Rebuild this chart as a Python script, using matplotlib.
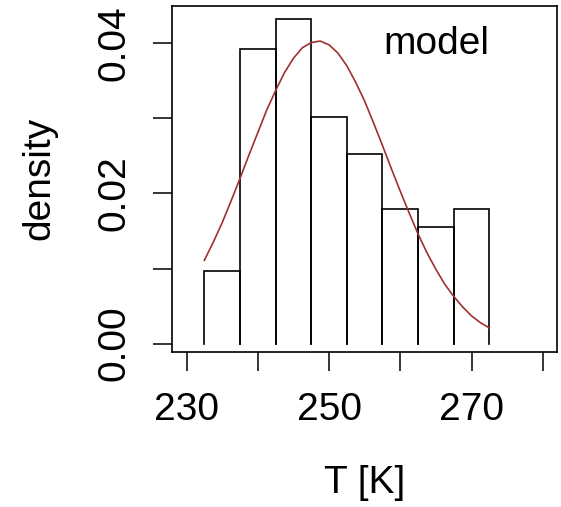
import matplotlib.pyplot as plt
import numpy

plt.rcParams['font.family'] = ['Liberation Sans', 'DejaVu Sans']

# histogram of observed temperatures (density per 5 K bin)
bin_edges = [232.5, 237.5, 242.5, 247.5, 252.5, 257.5, 262.5, 267.5, 272.5]
densities = [0.0097, 0.0393, 0.0432, 0.0302, 0.0252, 0.0180, 0.0155, 0.0180]

# model curve
model_t = [232.5, 233.75, 235.0, 236.25, 237.5, 238.75, 240.0, 241.25, 242.5,
           243.75, 245.0, 246.25, 247.5, 248.75, 250.0, 251.25, 252.5,
           253.75, 255.0, 256.25, 257.5, 258.75, 260.0, 261.25, 262.5,
           263.75, 265.0, 266.25, 267.5, 268.75, 270.0, 271.25, 272.5]
model_density = [0.0111, 0.0135, 0.0161, 0.0190, 0.0220, 0.0251, 0.0281, 0.0311, 0.0337,
                 0.0361, 0.0380, 0.0394, 0.0401, 0.0403, 0.0398, 0.0387, 0.0370,
                 0.0348, 0.0323, 0.0294, 0.0264, 0.0233, 0.0203, 0.0174, 0.0146,
                 0.0121, 0.0099, 0.0079, 0.0063, 0.0049, 0.0037, 0.0028, 0.0021]

x_ticks = [230, 240, 250, 260, 270, 280]
x_labels = ['230', '', '250', '', '270', '']
y_ticks = [0.00, 0.01, 0.02, 0.03, 0.04]
y_labels = ['0.00', '', '0.02', '', '0.04']


def produce_plot():
    fig = plt.figure(figsize=(5.61, 5.07), dpi=100)
    ax = fig.add_axes([0.3071, 0.3063, 0.6858, 0.6819])

    # bars drawn as open rectangles (no bottom edge, like R's hist here)
    for left, right, h in zip(bin_edges[:-1], bin_edges[1:], densities):
        ax.plot([left, left, right, right], [0, h, h, 0], color='black', lw=1.2,
                solid_joinstyle='miter')

    ax.plot(model_t, model_density, color='#a03030', lw=1.2)
    ax.text(265, 0.0399, 'model', fontsize=28, ha='center', va='center')

    ax.set_xlim(228, 282)
    ax.set_ylim(-0.00107, 0.04497)
    ax.set_xticks(x_ticks)
    ax.set_xticklabels(x_labels)
    ax.set_yticks(y_ticks)
    ax.set_yticklabels(y_labels, rotation=90, va='center')
    ax.tick_params(direction='out', length=14, width=1.1, labelsize=28, pad=15)
    for spine in ax.spines.values():
        spine.set_linewidth(1.2)

    ax.set_xlabel('T [K]', fontsize=28, labelpad=27)
    ax.set_ylabel('density', fontsize=28, labelpad=28)

    plt.savefig('out.png', dpi=100, facecolor='w')


if __name__ == "__main__":
    produce_plot()
